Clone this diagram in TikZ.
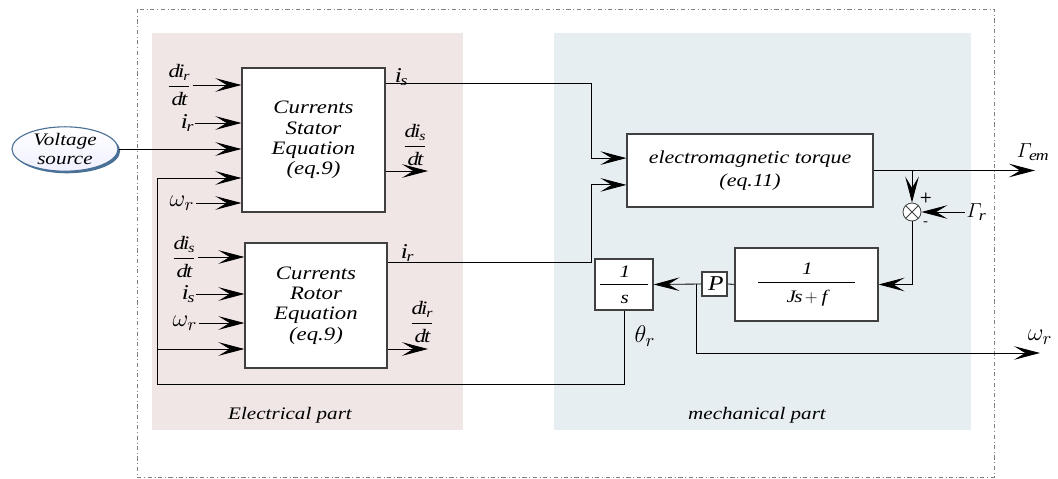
\documentclass[tikz,border=0pt]{standalone}
\usepackage{amsmath}
\usepackage{fontspec}
\setmainfont{Liberation Serif}[FakeStretch=1.2]
\usepackage{tikz}
\usetikzlibrary{positioning, arrows.meta, shapes.geometric, shadows}
\definecolor{elecfondo}{RGB}{241,230,230}
\definecolor{mecafondo}{RGB}{231,238,242}
\definecolor{borde}{RGB}{74,112,150}

\begin{document}
\begin{tikzpicture}[
		x=0.025cm, y=-0.025cm,
		font=\fontsize{12.5}{14}\selectfont\itshape,
		bloque/.style={
			rectangle,
			draw=black!75,
			line width=0.8pt,
			fill=white,
			align=center,
			inner sep=0pt
		},
		ecuacion/.style={
			bloque,
			font=\fontsize{13.5}{14.5}\selectfont\itshape
		},
		panel/.style={
			rectangle,
			fill=#1,
			inner sep=0pt,
			minimum height=9.925cm
		},
		mat/.style={
			font=\fontsize{15}{17}\selectfont\itshape,
			inner sep=1pt
		},
		frac/.style={
			font=\fontsize{13.5}{15}\selectfont\itshape,
			inner sep=1pt
		},
		griega/.style={
			mat,
			scale=1.2
		},
		flecha/.style={
			-{Stealth[length=6.5mm, width=3.4mm, inset=2.8mm]},
			line width=0.6pt,
			black
		},
		linea/.style={
			line width=0.8pt,
			black!75
		},
		suma/.style={
			circle,
			draw=black!75,
			line width=0.6pt,
			fill=white,
			minimum size=0.45cm,
			inner sep=0pt,
			path picture={
				\draw[black!75, line width=0.6pt]
				(path picture bounding box.north west) -- (path picture bounding box.south east)
				(path picture bounding box.north east) -- (path picture bounding box.south west);
			}
		},
		fuente/.style={
			ellipse,
			draw=borde,
			line width=0.8pt,
			top color=white,
			bottom color=blue!6,
			minimum width=2.65cm,
			minimum height=1.05cm,
			inner sep=0pt,
			align=center,
			font=\fontsize{12.5}{13.5}\selectfont\itshape,
			drop shadow={shadow xshift=1.5pt, shadow yshift=-1.5pt, fill=borde, opacity=1}
		}
		]
		\useasboundingbox (0,0) rectangle (1058,479);
		% Panels
		\draw[dash dot, gray, line width=0.6pt] (137,9) rectangle (994,477);
		\node[panel=elecfondo, minimum width=7.775cm] (elec) at (307.5,231.5) {};
		\node[panel=mecafondo, minimum width=10.425cm] (meca) at (762.5,231.5) {};
		\node at (290,415) {Electrical part};
		\node at (757,415) {mechanical part};
		% Blocks
		\node[ecuacion, minimum width=3.575cm, minimum height=3.6cm] (stator) at (313.5,140)
		{Currents\\Stator\\Equation\\(eq.9)};
		\node[ecuacion, minimum width=3.55cm, minimum height=3.125cm] (rotor) at (316,305.5)
		{Currents\\Rotor\\Equation\\(eq.9)};
		\node[bloque, minimum width=6.15cm, minimum height=1.825cm,
		font=\fontsize{13}{16}\selectfont\itshape] (torque) at (750,170.5)
		{electromagnetic torque\\(eq.11)};
		\node[bloque, minimum width=3.575cm, minimum height=1.825cm] (jsf) at (806.5,284.5)
		{$\dfrac{\rule[-4pt]{0pt}{4pt}\mathit{1}}{\makebox[2.4cm]{\rule{0pt}{13pt}$\mathit{Js}+\mathit{f}$}}$};
		\node[bloque, minimum width=0.625cm, minimum height=0.6cm, font=\fontsize{15}{17}\selectfont] (P) at (714.5,284)
		{$\mathit{P}$};
		\node[bloque, minimum width=1.45cm, minimum height=1.275cm] (integ) at (624,284.5)
		{$\dfrac{\rule[-3pt]{0pt}{3pt}\mathit{1}}{\makebox[1.2cm]{\rule{0pt}{12pt}$\mathit{s}$}}$};
		\node[suma] (sum) at (912,212) {};
		\node[fuente] (volt) at (65,149) {Voltage\\source};
		% Coordinates
		\coordinate (lazoA) at (157,178);
		\coordinate (lazoB) at (157,384);
		\coordinate (lazoC) at (157,349);
		\coordinate (esq1) at (591,83);
		\coordinate (esq2) at (591,262);
		\coordinate (salS) at (428,171);
		\coordinate (salR) at (428,349);
		\coordinate (salG) at (1035,170.5);
		\coordinate (ramW) at (696,284);
		\coordinate (salW) at (1040,353);
		% Input labels
		\node[frac] (dirA) at (179,85) {$\dfrac{\mathit{di}_{\mathit{r}}}{\mathit{dt}}$};
		\node[mat] (irA) at (187,123) {$\mathit{i}_{\mathit{r}}$};
		\node[griega] (wA) at (182,203) {$\omega_r$};
		\node[frac] (disB) at (184,257) {$\dfrac{\mathit{di}_{\mathit{s}}}{\mathit{dt}}$};
		\node[mat] (isB) at (188,294) {$\mathit{i}_{\mathit{s}}$};
		\node[griega] (wB) at (185,323) {$\omega_r$};
		% Output labels
		\node[mat] at (401,77) {$\mathit{i}_{\mathit{s}}$};
		\node[frac] at (415,145) {$\dfrac{\mathit{di}_{\mathit{s}}}{\mathit{dt}}$};
		\node[mat] at (407,253) {$\mathit{i}_{\mathit{r}}$};
		\node[frac] at (422,322) {$\dfrac{\mathit{di}_{\mathit{r}}}{\mathit{dt}}$};
		\node[mat] at (1032,152) {$\varGamma_{\mathit{em}}$};
		\node[mat] (gr) at (976,212) {$\varGamma_{\mathit{r}}$};
		\node[griega] at (645,336) {$\theta_r$};
		\node[griega] at (1040,337) {$\omega_r$};
		\node[font=\sffamily\bfseries] at (926,198) {+};
		\node[font=\sffamily\bfseries] at (926,224) {-};
		% Arrows
		\draw[flecha] (dirA) -- (dirA -| stator.west);
		\draw[flecha] (irA) -- (irA -| stator.west);
		\draw[flecha] (volt) -- (volt -| stator.west);
		\draw[flecha] (wA) -- (wA -| stator.west);
		\draw[flecha] (disB) -- (disB -| rotor.west);
		\draw[flecha] (isB) -- (isB -| rotor.west);
		\draw[flecha] (wB) -- (wB -| rotor.west);
		\draw[flecha] (integ.south) |- (lazoB) -- (lazoA) -- (lazoA -| stator.west);
		\draw[flecha] (lazoC) -- (lazoC -| rotor.west);
		\draw[flecha] (stator.east |- esq1) -- (esq1) |- ([yshift=0.31cm]torque.west);
		\draw[flecha] (rotor.east |- esq2) -- (esq2) |- ([yshift=-0.36cm]torque.west);
		\draw[flecha] (salS -| stator.east) -- (salS);
		\draw[flecha] (salR -| rotor.east) -- (salR);
		\draw[flecha] (torque.east) -- (salG);
		\draw[flecha] (sum |- torque.east) -- (sum.north);
		\draw[flecha] (gr) -- (sum.east);
		\draw[flecha] (sum.south) |- (jsf.east);
		\draw[linea] (jsf.west) -- (P.east);
		\draw[flecha] (P.west) -- (integ.east);
		\draw[flecha] (ramW) |- (salW);
	\end{tikzpicture}
\end{document}
